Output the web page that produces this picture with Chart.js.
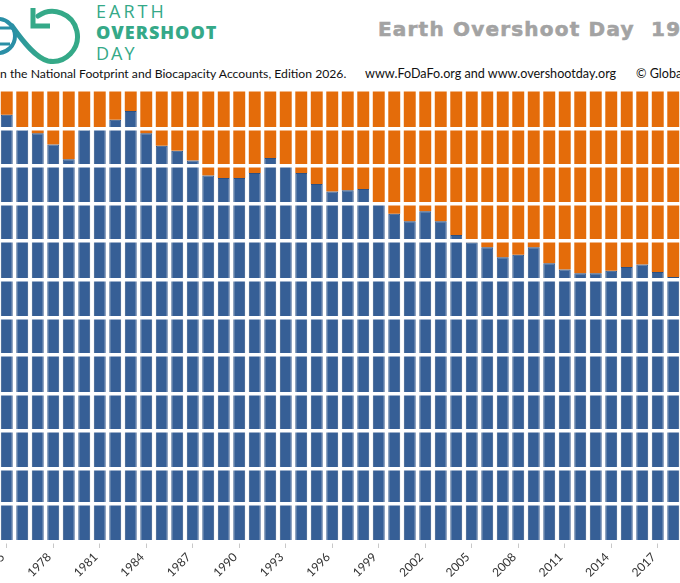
<!DOCTYPE html>
<html>
<head>
<meta charset="utf-8">
<title>Earth Overshoot Day</title>
<script src="https://cdn.jsdelivr.net/npm/chart.js@4/dist/chart.umd.min.js"></script>
<style>
  html, body { margin: 0; padding: 0; background: #fff; }
  body { width: 680px; height: 583px; overflow: hidden; position: relative; }
  #logo { position: absolute; left: 0; top: 0; }
  .brand { position: absolute; left: 96px; color: #35a988; font-family: "Open Sans", sans-serif; white-space: nowrap; line-height: 1; }
  #b1 { top: 2px; font-size: 18px; letter-spacing: 3px; }
  #b2 { top: 23px; font-size: 18px; font-weight: 800; letter-spacing: 1px; }
  #b3 { top: 44px; font-size: 18px; letter-spacing: 2px; }
  #title { position: absolute; left: 378px; top: 17px; font-family: "DejaVu Sans", sans-serif; font-weight: bold;
           font-size: 20px; letter-spacing: 1.2px; color: #a3a3a3; -webkit-text-stroke: 0.6px #a3a3a3; white-space: pre; }
  .sub { position: absolute; top: 66px; font-family: Lato, sans-serif; font-size: 12.6px; color: #111; white-space: pre; }
  #wrap { position: absolute; left: -1.25px; top: 90px; width: 682px; height: 493px; }
</style>
</head>
<body>
<svg id="logo" width="90" height="66" viewBox="0 0 90 66">
  <defs>
    <linearGradient id="g" x1="0" y1="0" x2="1" y2="0">
      <stop offset="0" stop-color="#2a8fa6"/>
      <stop offset="0.45" stop-color="#35a988"/>
      <stop offset="1" stop-color="#35a988"/>
    </linearGradient>
  </defs>
  <circle cx="-2" cy="36" r="17" fill="none" stroke="#2a8fa6" stroke-width="4"/>
  <path d="M0 28 H12 M0 44 H10" stroke="#2a8fa6" stroke-width="3"/>
  <path d="M38 16 A25 25 0 1 1 48 61 C36 58 24 43 12 26" fill="none" stroke="url(#g)" stroke-width="5" stroke-linecap="round"/>
  <path d="M33 8 V26 H50" fill="none" stroke="#35a988" stroke-width="5"/>
</svg>
<div class="brand" id="b1">EARTH</div>
<div class="brand" id="b2">OVERSHOOT</div>
<div class="brand" id="b3">DAY</div>
<div id="title">Earth Overshoot Day  197</div>
<div class="sub" style="left:0; font-size:12.2px">n the National Footprint and Biocapacity Accounts, Edition 2026.</div>
<div class="sub" style="left:365px">www.FoDaFo.org and www.overshootday.org</div>
<div class="sub" style="left:636px">© Globa</div>
<div id="wrap"><canvas id="chart"></canvas></div>

<script>
// years shown in the picture
const years = [
    1975, 1976, 1977, 1978, 1979, 1980, 1981, 1982, 1983, 1984,
    1985, 1986, 1987, 1988, 1989, 1990, 1991, 1992, 1993, 1994,
    1995, 1996, 1997, 1998, 1999, 2000, 2001, 2002, 2003, 2004,
    2005, 2006, 2007, 2008, 2009, 2010, 2011, 2012, 2013, 2014,
    2015, 2016, 2017, 2018
];

// day of the year on which overshoot day falls (blue part)
const overshootDay = [
    345, 333, 330, 321, 309, 333, 334, 341, 348, 330,
    320, 316, 308, 296, 294, 294, 298, 310, 305, 298,
    289, 283, 284, 285, 273, 265, 259, 267, 259, 248,
    242, 238, 230, 232, 238, 225, 220, 217, 217, 219,
    222, 224, 218, 214
];

// rest of the year (orange part)
const restOfYear = overshootDay.map(d => 365 - d);

// first day of each month, used for the white month lines
const monthStarts = [0, 31, 59, 90, 120, 151, 181, 212, 243, 273, 304, 334, 365];

function generateChart() {
    const ctx = document.getElementById("chart").getContext("2d");
    new Chart(ctx, {
        type: 'bar',
        data: {
            labels: years.map(String),
            datasets: [{
                label: 'Overshoot day',
                data: overshootDay,
                backgroundColor: '#365f96',
                borderColor: '#2b5083',
                borderWidth: 1,
                barPercentage: 0.77,
                categoryPercentage: 1
            }, {
                label: 'Rest of the year',
                data: restOfYear,
                backgroundColor: '#e46c0a',
                borderWidth: 0,
                barPercentage: 0.77,
                categoryPercentage: 1
            }]
        },
        options: {
            responsive: true,
            maintainAspectRatio: false,
            animation: false,
            layout: { padding: 0 },
            plugins: {
                legend: { display: false },
                tooltip: { enabled: false }
            },
            scales: {
                x: {
                    stacked: true,
                    border: { display: false },
                    grid: {
                        offset: false,
                        drawOnChartArea: false,
                        drawTicks: true,
                        tickLength: 6,
                        color: c => c.index % 3 === 0 ? '#c8c8c8' : 'rgba(0,0,0,0)'
                    },
                    ticks: {
                        autoSkip: false,
                        minRotation: 45,
                        maxRotation: 45,
                        padding: 2,
                        labelOffset: -4,
                        color: '#333',
                        font: { family: 'Lato', size: 12 },
                        callback: (v, i) => i % 3 === 0 ? years[i] : ''
                    },
                    afterFit: s => { s.height = 41; s.paddingLeft = 0; s.paddingRight = 0; }
                },
                y: {
                    stacked: true,
                    min: 0,
                    max: 365,
                    border: { display: false },
                    ticks: { display: false },
                    afterBuildTicks: s => { s.ticks = monthStarts.map(v => ({ value: v })); },
                    grid: { color: '#ffffff', lineWidth: 3.5, drawTicks: false, z: 1 },
                    afterFit: s => { s.width = 0; }
                }
            }
        }
    });
}

generateChart();
</script>
</body>
</html>
